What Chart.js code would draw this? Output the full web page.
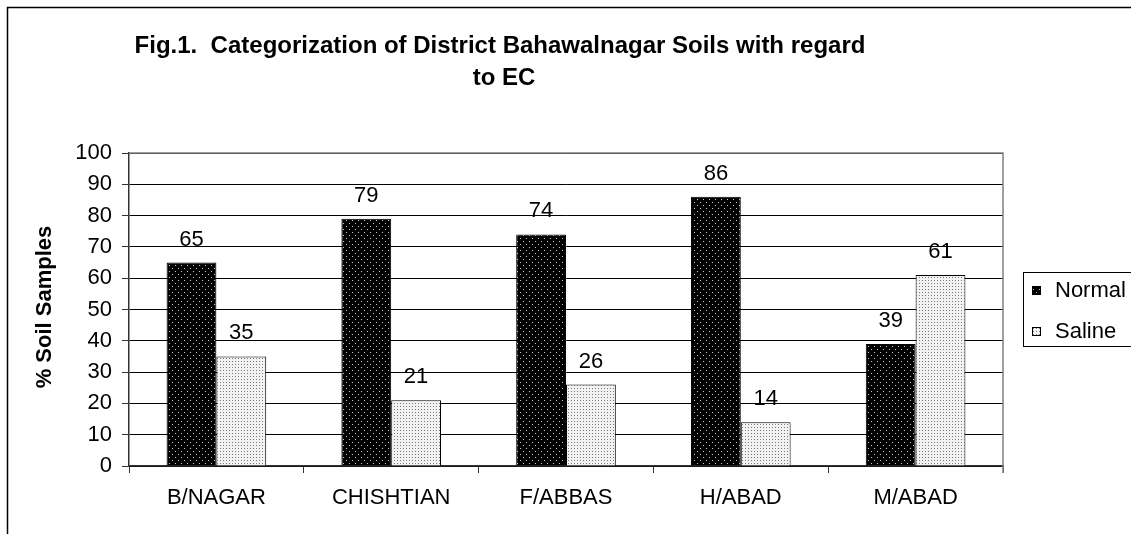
<!DOCTYPE html>
<html>
<head>
<meta charset="utf-8">
<script src="https://cdn.jsdelivr.net/npm/chart.js@4/dist/chart.umd.min.js"></script>
<style>
  html, body { margin: 0; padding: 0; background: #fff; }
  canvas { display: block; }
</style>
</head>
<body>
<canvas id="myChart" width="1131" height="534"></canvas>
<script>
// chart data
const districts = ["B/NAGAR", "CHISHTIAN", "F/ABBAS", "H/ABAD", "M/ABAD"];
const normalValues = [65, 79, 74, 86, 39];
const salineValues = [35, 21, 26, 14, 61];
const seriesNames = ["Normal", "Saline"];
const titleLines = ["Fig.1.  Categorization of District Bahawalnagar Soils with regard", "to EC"];
const yTitle = "% Soil Samples";

const FONT = "Arial, 'Liberation Sans', sans-serif";

// dotted fills like the old excel patterns
function makePattern(bg, dot, size, dots) {
  const c = document.createElement("canvas");
  c.width = size;
  c.height = size;
  const g = c.getContext("2d");
  g.fillStyle = bg;
  g.fillRect(0, 0, size, size);
  g.fillStyle = dot;
  dots.forEach(d => g.fillRect(d[0], d[1], 1, 1));
  return g.createPattern(c, "repeat");
}

const ctx = document.getElementById("myChart").getContext("2d");
const normalFill = makePattern("#000", "#c8c8c8", 6, [[1, 1], [4, 4]]);
const salineFill = makePattern("#f2f2f2", "#7a7a7a", 3, [[1, 1]]);

// extra drawing: frame, title, axis title, legend, value labels
const decorations = {
  id: "decorations",
  afterDraw(chart) {
    const c = chart.ctx;
    const area = chart.chartArea;
    c.save();

    // outer frame
    c.strokeStyle = "#000";
    c.lineWidth = 1.5;
    c.strokeRect(7.5, 7.5, chart.width + 20, chart.height + 20);

    // plot border top/right
    c.strokeStyle = "#808080";
    c.lineWidth = 1.5;
    c.beginPath();
    c.moveTo(area.left, area.top);
    c.lineTo(area.right, area.top);
    c.lineTo(area.right, area.bottom + 7);
    c.stroke();

    // title
    c.fillStyle = "#000";
    c.textAlign = "center";
    c.textBaseline = "alphabetic";
    c.font = "bold 24px " + FONT;
    c.fillText(titleLines[0], 500, 53);
    c.fillText(titleLines[1], 504, 85);

    // y axis title
    c.save();
    c.translate(45, 307);
    c.rotate(-Math.PI / 2);
    c.textBaseline = "middle";
    c.font = "bold 22px " + FONT;
    c.fillText(yTitle, 0, 0);
    c.restore();

    // value labels
    c.font = "22px " + FONT;
    c.textBaseline = "alphabetic";
    chart.data.datasets.forEach((ds, i) => {
      chart.getDatasetMeta(i).data.forEach((bar, j) => {
        c.fillText(String(ds.data[j]), bar.x, bar.y - 17);
      });
    });

    // legend
    c.strokeStyle = "#000";
    c.lineWidth = 1;
    c.strokeRect(1023.5, 272.5, 140, 74);
    c.textAlign = "left";
    c.textBaseline = "middle";
    const rows = [290, 331];
    chart.data.datasets.forEach((ds, i) => {
      c.fillStyle = ds.backgroundColor;
      c.fillRect(1032, rows[i] - 4, 9, 9);
      c.strokeStyle = "#000";
      c.strokeRect(1032.5, rows[i] - 3.5, 8, 8);
      c.fillStyle = "#000";
      c.fillText(ds.label, 1055, rows[i] + 1);
    });

    c.restore();
  }
};

new Chart(ctx, {
  type: "bar",
  data: {
    labels: districts,
    datasets: [
      {
        label: seriesNames[0],
        data: normalValues,
        backgroundColor: normalFill,
        borderColor: "#000",
        borderWidth: 1
      },
      {
        label: seriesNames[1],
        data: salineValues,
        backgroundColor: salineFill,
        borderColor: "#000",
        borderWidth: 1
      }
    ]
  },
  options: {
    responsive: false,
    animation: false,
    events: [],
    layout: { padding: { top: 153, right: 128, bottom: 0, left: 0 } },
    datasets: {
      bar: { categoryPercentage: 0.57, barPercentage: 1.0 }
    },
    plugins: {
      legend: { display: false },
      title: { display: false },
      tooltip: { enabled: false }
    },
    scales: {
      x: {
        offset: true,
        grid: {
          offset: true,
          drawOnChartArea: false,
          drawTicks: true,
          tickLength: 7,
          color: "#333"
        },
        border: { color: "#333", width: 1.5 },
        ticks: {
          color: "#000",
          font: { family: FONT, size: 22 },
          padding: 12,
          maxRotation: 0
        },
        afterFit(scale) { scale.height = 68; }
      },
      y: {
        min: 0,
        max: 100,
        grid: {
          color: "#000",
          lineWidth: 1,
          drawTicks: true,
          tickLength: 7,
          tickColor: "#333"
        },
        border: { color: "#333", width: 1.5 },
        ticks: {
          stepSize: 10,
          color: "#000",
          font: { family: FONT, size: 22 },
          padding: 10
        },
        afterFit(scale) { scale.width = 129; }
      }
    }
  },
  plugins: [decorations]
});
</script>
</body>
</html>
